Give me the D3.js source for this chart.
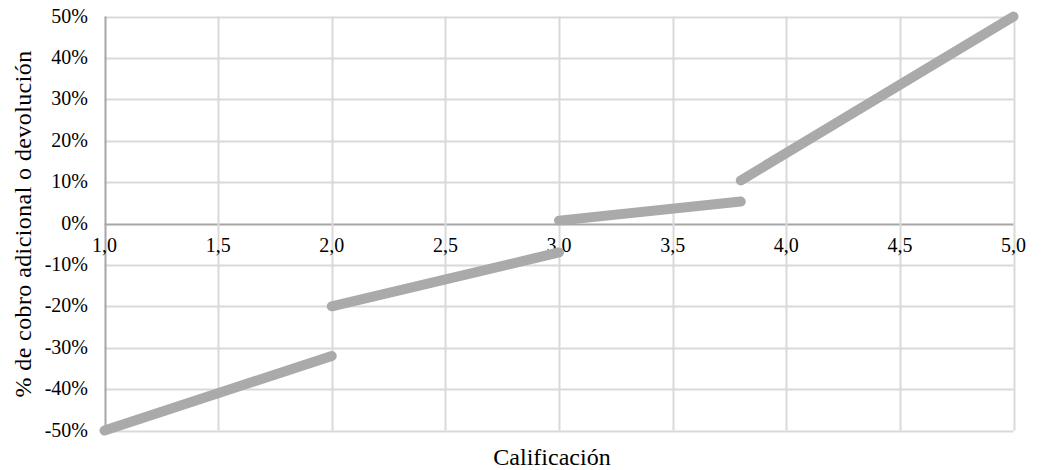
<!DOCTYPE html>
<html>
<head>
<meta charset="utf-8">
<script src="https://cdn.jsdelivr.net/npm/d3@7"></script>
<style>
  body { margin: 0; background: #fff; }
  svg text { font-family: "Liberation Serif", "Times New Roman", serif; fill: #000; }
</style>
</head>
<body>
<div id="chart"></div>
<script>
// tramos de la función (calificación -> % cobro/devolución)
var seg1X = [1.0, 2.0], seg1Y = [-0.50, -0.32];
var seg2X = [2.0, 3.0], seg2Y = [-0.20, -0.07];
var seg3X = [3.0, 3.8], seg3Y = [0.007, 0.053];
var seg4X = [3.8, 5.0], seg4Y = [0.104, 0.50];
var xTicks = [1.0, 1.5, 2.0, 2.5, 3.0, 3.5, 4.0, 4.5, 5.0];
var yTicks = [-0.5, -0.4, -0.3, -0.2, -0.1, 0, 0.1, 0.2, 0.3, 0.4, 0.5];

var W = 1042, H = 470;
var pLeft = 104.5, pRight = 1013.5, pTop = 16.5, pBottom = 430.5;

var svg = d3.select("#chart").append("svg")
    .attr("width", W).attr("height", H);

var x = d3.scaleLinear().domain([1, 5]).range([pLeft, pRight]);
var y = d3.scaleLinear().domain([-0.5, 0.5]).range([pBottom, pTop]);

// grid
svg.append("g").selectAll("line.h").data(yTicks).enter().append("line")
    .attr("x1", pLeft).attr("x2", pRight)
    .attr("y1", function(d) { return Math.round(y(d)) + 0.5; })
    .attr("y2", function(d) { return Math.round(y(d)) + 0.5; })
    .attr("stroke", function(d) { return d === 0 ? "#a6a6a6" : "#d9d9d9"; })
    .attr("stroke-width", 2);
svg.append("g").selectAll("line.v").data(xTicks).enter().append("line")
    .attr("y1", pTop).attr("y2", pBottom)
    .attr("x1", function(d) { return Math.round(x(d)) + 0.5; })
    .attr("x2", function(d) { return Math.round(x(d)) + 0.5; })
    .attr("stroke", function(d) { return d === 1 ? "#a6a6a6" : "#d9d9d9"; })
    .attr("stroke-width", 2);

// y labels
var fmtY = function(d) { return Math.round(d * 100) + "%"; };
svg.append("g").selectAll("text").data(yTicks).enter().append("text")
    .attr("x", 88)
    .attr("y", function(d) { return y(d) + 6; })
    .attr("text-anchor", "end")
    .style("font-size", "20px")
    .text(fmtY);

// x labels (sobre la línea del 0%)
var fmtX = function(d) { return d.toFixed(1).replace(".", ","); };
svg.append("g").selectAll("text").data(xTicks).enter().append("text")
    .attr("x", function(d) { return x(d); })
    .attr("y", y(0) + 28)
    .attr("text-anchor", "middle")
    .style("font-size", "20px")
    .text(fmtX);

// series
var segs = [[seg1X, seg1Y], [seg2X, seg2Y], [seg3X, seg3Y], [seg4X, seg4Y]];
var line = d3.line()
    .x(function(d) { return x(d[0]); })
    .y(function(d) { return y(d[1]); });
svg.append("g").selectAll("path").data(segs).enter().append("path")
    .attr("d", function(s) { return line(d3.zip(s[0], s[1])); })
    .attr("fill", "none")
    .attr("stroke", "#aaaaaa")
    .attr("stroke-width", 10)
    .attr("stroke-linecap", "round");

// titulos
svg.append("text")
    .attr("x", 552)
    .attr("y", 465)
    .attr("text-anchor", "middle")
    .style("font-size", "24px")
    .text("Calificación");
svg.append("text")
    .attr("transform", "translate(31,224) rotate(-90)")
    .attr("text-anchor", "middle")
    .style("font-size", "24px")
    .style("letter-spacing", "0.4px")
    .text("% de cobro adicional o devolución");
</script>
</body>
</html>
